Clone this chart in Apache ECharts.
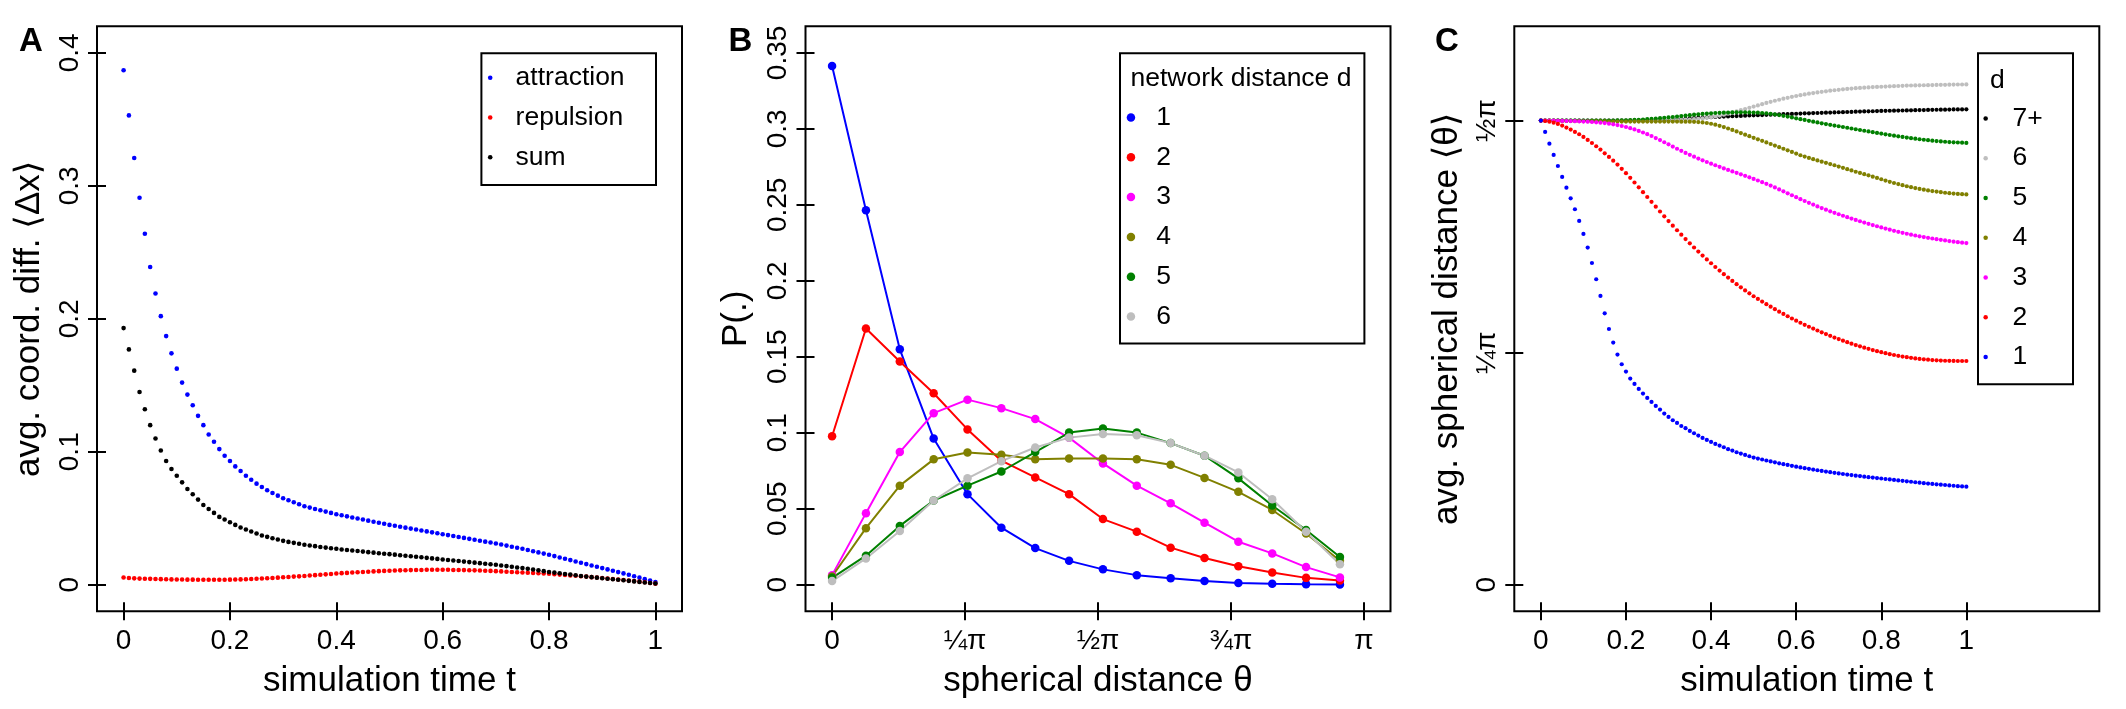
<!DOCTYPE html>
<html><head><meta charset="utf-8">
<script src="https://cdn.jsdelivr.net/npm/echarts@6/dist/echarts.min.js"></script>
<style>html,body{margin:0;padding:0;background:#fff}#c{width:2126px;height:709px}</style>
</head><body><div id="c"></div>
<script>
// ---------- Panel A : simulation time vs avg. coordinate difference ----------
const timeT = [0,0.01,0.02,0.03,0.04,0.05,0.06,0.07,0.08,0.09,0.1,0.11,0.12,0.13,0.14,0.15,0.16,0.17,0.18,0.19,0.2,0.21,0.22,0.23,0.24,0.25,0.26,0.27,0.28,0.29,0.3,0.31,0.32,0.33,0.34,0.35,0.36,0.37,0.38,0.39,0.4,0.41,0.42,0.43,0.44,0.45,0.46,0.47,0.48,0.49,0.5,0.51,0.52,0.53,0.54,0.55,0.56,0.57,0.58,0.59,0.6,0.61,0.62,0.63,0.64,0.65,0.66,0.67,0.68,0.69,0.7,0.71,0.72,0.73,0.74,0.75,0.76,0.77,0.78,0.79,0.8,0.81,0.82,0.83,0.84,0.85,0.86,0.87,0.88,0.89,0.9,0.91,0.92,0.93,0.94,0.95,0.96,0.97,0.98,0.99,1];

const attraction = [0.387,0.353,0.321,0.291,0.264,0.239,0.219,0.202,0.187,0.174,
0.1625,0.152,0.143,0.135,0.127,0.120,0.113,0.1075,0.102,0.097,
0.093,0.089,0.0855,0.082,0.079,0.076,0.0735,0.071,0.069,0.067,
0.065,0.0635,0.062,0.0605,0.059,0.058,0.057,0.056,0.055,0.054,
0.053,0.0522,0.0514,0.0506,0.0498,0.049,0.0482,0.0474,0.0466,0.0458,
0.045,0.0443,0.0436,0.0429,0.0422,0.0415,0.0408,0.0401,0.0394,0.0387,
0.038,0.0373,0.0366,0.0359,0.0352,0.0345,0.0338,0.0331,0.0324,0.0317,
0.031,0.0302,0.0294,0.0286,0.0278,0.027,0.0261,0.0252,0.0243,0.0234,
0.0225,0.0215,0.0205,0.0195,0.0185,0.0175,0.0165,0.0155,0.0145,0.0135,
0.0125,0.0115,0.0105,0.0095,0.0085,0.0075,0.0064,0.0053,0.0042,0.0031,
0.002];

const repulsion = [0.0054,0.0050,0.0048,0.0046,0.0045,0.0044,0.0043,0.0042,0.0041,0.0040,
0.0039,0.0039,0.0038,0.0038,0.0037,0.0037,0.0037,0.0037,0.0037,0.0037,
0.0038,0.0039,0.0040,0.0041,0.0043,0.0045,0.0047,0.0049,0.0051,0.0053,
0.0056,0.0058,0.0061,0.0063,0.0066,0.0069,0.0072,0.0075,0.0078,0.0081,
0.0084,0.0087,0.0089,0.0092,0.0094,0.0096,0.0098,0.0100,0.0102,0.0104,
0.0105,0.0107,0.0108,0.0109,0.0110,0.0111,0.0111,0.0112,0.0112,0.0112,
0.0112,0.0112,0.0111,0.0111,0.0110,0.0109,0.0108,0.0107,0.0105,0.0104,
0.0102,0.0100,0.0098,0.0096,0.0094,0.0092,0.0090,0.0088,0.0086,0.0084,
0.0082,0.0079,0.0076,0.0073,0.0070,0.0067,0.0064,0.0061,0.0057,0.0054,
0.0050,0.0047,0.0043,0.0039,0.0035,0.0031,0.0027,0.0023,0.0018,0.0013,
0.0008];

const sumForce = [0.193,0.177,0.161,0.145,0.132,0.120,0.110,0.101,0.093,0.087,
0.082,0.077,0.072,0.068,0.064,0.060,0.057,0.054,0.051,0.049,
0.047,0.045,0.043,0.0415,0.040,0.0385,0.037,0.036,0.035,0.034,
0.033,0.0322,0.0315,0.0308,0.0301,0.0295,0.029,0.0284,0.0279,0.0274,
0.027,0.0265,0.0261,0.0257,0.0253,0.0249,0.0245,0.0241,0.0237,0.0233,
0.023,0.0226,0.0222,0.0218,0.0214,0.021,0.0206,0.0202,0.0198,0.0194,
0.019,0.0186,0.0182,0.0178,0.0174,0.017,0.0166,0.0162,0.0158,0.0154,
0.015,0.0145,0.014,0.0135,0.013,0.0125,0.012,0.0114,0.0108,0.0102,
0.0096,0.0091,0.0086,0.0081,0.0076,0.0071,0.0066,0.0061,0.0057,0.0053,
0.0049,0.0045,0.0041,0.0037,0.0033,0.0029,0.0025,0.0021,0.0017,0.0013,
0.0009];

const ticksA_x = [0,0.2,0.4,0.6,0.8,1];
const labelsA_x = ['0','0.2','0.4','0.6','0.8','1'];
const ticksA_y = [0,0.1,0.2,0.3,0.4];
const labelsA_y = ['0','0.1','0.2','0.3','0.4'];

// ---------- Panel B : P(theta) per network distance d ----------
const thetaRad = [0,0.2,0.4,0.6,0.8,1.0,1.2,1.4,1.6,1.8,2.0,2.2,2.4,2.6,2.8,3.0];
const P_d1 = [0.3414,0.2464,0.1549,0.0962,0.0596,0.0375,0.0241,0.0157,0.0101,0.0063,0.0042,0.0024,0.0012,0.0006,0.0003,0.0001];
const P_d2 = [0.0977,0.1686,0.1469,0.1260,0.1022,0.0816,0.0706,0.0596,0.0432,0.0349,0.0244,0.0176,0.0122,0.0080,0.0045,0.0027];
const P_d3 = [0.0063,0.0471,0.0873,0.1129,0.1218,0.1162,0.1090,0.0968,0.0798,0.0652,0.0536,0.0408,0.0283,0.0206,0.0116,0.0048];
const P_d4 = [0.0054,0.0372,0.0652,0.0825,0.0870,0.0855,0.0825,0.0831,0.0831,0.0825,0.0789,0.0703,0.0611,0.0492,0.0337,0.0158];
const P_d5 = [0.0045,0.0191,0.0387,0.0554,0.0652,0.0745,0.0873,0.1001,0.1028,0.1001,0.0932,0.0849,0.0700,0.0521,0.0360,0.0182];
const P_d6 = [0.0024,0.0173,0.0354,0.0554,0.0700,0.0813,0.0903,0.0968,0.0992,0.0983,0.0932,0.0849,0.0739,0.0563,0.0349,0.0134];

const ticksB_x = [0, Math.PI/4, Math.PI/2, 3*Math.PI/4, Math.PI];
const labelsB_x = ['0','\u00BC\u03C0','\u00BD\u03C0','\u00BE\u03C0','\u03C0'];
const ticksB_y = [0,0.05,0.1,0.15,0.2,0.25,0.3,0.35];
const labelsB_y = ['0','0.05','0.1','0.15','0.2','0.25','0.3','0.35'];

// ---------- Panel C : avg. spherical distance (in units of pi) vs time ----------
const C_d1 = [0.5000,0.4878,0.4752,0.4630,0.4511,0.4393,0.4278,0.4163,0.4045,0.3919,
0.3779,0.3632,0.3466,0.3291,0.3111,0.2924,0.2755,0.2609,0.2479,0.2375,
0.2296,0.2221,0.2163,0.2109,0.2059,0.2012,0.1969,0.1926,0.1887,0.1844,
0.1808,0.1772,0.1743,0.1710,0.1686,0.1657,0.1632,0.1607,0.1581,0.1560,
0.1538,0.1517,0.1499,0.1481,0.1460,0.1445,0.1427,0.1413,0.1398,0.1384,
0.1370,0.1359,0.1349,0.1338,0.1328,0.1318,0.1308,0.1299,0.1290,0.1281,
0.1272,0.1264,0.1256,0.1248,0.1240,0.1233,0.1226,0.1219,0.1212,0.1205,
0.1199,0.1193,0.1187,0.1181,0.1175,0.1170,0.1164,0.1159,0.1154,0.1149,
0.1144,0.1139,0.1134,0.1129,0.1124,0.1119,0.1114,0.1109,0.1104,0.1099,
0.1094,0.1090,0.1086,0.1082,0.1078,0.1074,0.1070,0.1066,0.1062,0.1059,
0.1056];
const C_d2 = [0.5000,0.4996,0.4989,0.4978,0.4964,0.4946,0.4925,0.4903,0.4878,0.4853,
0.4824,0.4792,0.4759,0.4724,0.4688,0.4648,0.4609,0.4568,0.4526,0.4481,
0.4434,0.4384,0.4333,0.4281,0.4229,0.4177,0.4125,0.4073,0.4021,0.3969,
0.3918,0.3868,0.3819,0.3771,0.3724,0.3678,0.3633,0.3589,0.3546,0.3504,
0.3463,0.3423,0.3384,0.3346,0.3309,0.3273,0.3238,0.3204,0.3171,0.3139,
0.3108,0.3079,0.3050,0.3022,0.2995,0.2968,0.2942,0.2917,0.2892,0.2868,
0.2845,0.2822,0.2800,0.2779,0.2759,0.2739,0.2719,0.2700,0.2681,0.2663,
0.2646,0.2629,0.2613,0.2597,0.2582,0.2568,0.2554,0.2541,0.2528,0.2516,
0.2505,0.2494,0.2484,0.2475,0.2466,0.2458,0.2451,0.2444,0.2438,0.2433,
0.2428,0.2424,0.2420,0.2417,0.2415,0.2413,0.2412,0.2411,0.2410,0.2410,
0.2410];
const C_d3 = [0.5000,0.5000,0.4999,0.4999,0.4998,0.4997,0.4996,0.4995,0.4994,0.4992,
0.4990,0.4988,0.4985,0.4982,0.4978,0.4973,0.4967,0.4960,0.4952,0.4942,
0.4931,0.4919,0.4905,0.4889,0.4872,0.4854,0.4834,0.4812,0.4790,0.4767,
0.4744,0.4720,0.4697,0.4674,0.4652,0.4631,0.4611,0.4591,0.4572,0.4554,
0.4536,0.4519,0.4502,0.4485,0.4469,0.4453,0.4437,0.4421,0.4405,0.4389,
0.4372,0.4355,0.4337,0.4319,0.4300,0.4280,0.4259,0.4238,0.4217,0.4196,
0.4175,0.4154,0.4134,0.4114,0.4095,0.4076,0.4058,0.4040,0.4023,0.4007,
0.3991,0.3975,0.3960,0.3945,0.3930,0.3916,0.3902,0.3888,0.3875,0.3862,
0.3849,0.3837,0.3825,0.3813,0.3802,0.3791,0.3781,0.3771,0.3762,0.3753,
0.3745,0.3737,0.3730,0.3723,0.3716,0.3709,0.3702,0.3696,0.3690,0.3685,
0.3681];
const C_d4 = [0.5000,0.5000,0.4999,0.4999,0.4998,0.4997,0.4996,0.4996,0.4995,0.4994,
0.4993,0.4993,0.4992,0.4992,0.4991,0.4991,0.4990,0.4990,0.4990,0.4990,
0.4990,0.4990,0.4990,0.4990,0.4990,0.4990,0.4990,0.4990,0.4990,0.4990,
0.4990,0.4990,0.4990,0.4989,0.4988,0.4988,0.4987,0.4984,0.4980,0.4974,
0.4966,0.4956,0.4944,0.4930,0.4915,0.4900,0.4883,0.4866,0.4849,0.4832,
0.4815,0.4798,0.4782,0.4765,0.4748,0.4731,0.4714,0.4697,0.4680,0.4663,
0.4645,0.4627,0.4612,0.4598,0.4584,0.4571,0.4558,0.4545,0.4532,0.4519,
0.4505,0.4491,0.4477,0.4463,0.4449,0.4436,0.4423,0.4410,0.4396,0.4382,
0.4368,0.4354,0.4341,0.4328,0.4316,0.4304,0.4293,0.4283,0.4273,0.4264,
0.4256,0.4248,0.4241,0.4235,0.4229,0.4223,0.4218,0.4214,0.4210,0.4207,
0.4205];
const C_d5 = [0.5000,0.5000,0.5000,0.5000,0.5000,0.5000,0.5000,0.5000,0.5000,0.5000,
0.5000,0.5000,0.5000,0.5000,0.5000,0.5000,0.5001,0.5001,0.5002,0.5002,
0.5003,0.5005,0.5007,0.5009,0.5012,0.5015,0.5018,0.5022,0.5026,0.5030,
0.5034,0.5039,0.5044,0.5049,0.5054,0.5059,0.5064,0.5068,0.5072,0.5076,
0.5079,0.5082,0.5084,0.5086,0.5087,0.5088,0.5089,0.5089,0.5089,0.5088,
0.5087,0.5085,0.5082,0.5078,0.5073,0.5067,0.5060,0.5052,0.5043,0.5034,
0.5025,0.5016,0.5007,0.4998,0.4989,0.4980,0.4971,0.4963,0.4955,0.4947,
0.4939,0.4931,0.4923,0.4915,0.4907,0.4899,0.4891,0.4883,0.4875,0.4867,
0.4860,0.4852,0.4845,0.4838,0.4831,0.4824,0.4817,0.4811,0.4805,0.4799,
0.4794,0.4789,0.4784,0.4780,0.4776,0.4772,0.4769,0.4766,0.4764,0.4762,
0.4760];
const C_d6 = [0.5000,0.5000,0.5000,0.5000,0.5000,0.5000,0.5000,0.5000,0.5000,0.5000,
0.5000,0.5001,0.5001,0.5001,0.5001,0.5001,0.5001,0.5001,0.5001,0.5001,
0.5001,0.5002,0.5002,0.5003,0.5003,0.5004,0.5004,0.5005,0.5005,0.5006,
0.5006,0.5007,0.5008,0.5009,0.5010,0.5012,0.5015,0.5019,0.5024,0.5030,
0.5037,0.5045,0.5054,0.5064,0.5075,0.5087,0.5099,0.5112,0.5125,0.5138,
0.5151,0.5164,0.5177,0.5190,0.5202,0.5214,0.5225,0.5236,0.5246,0.5256,
0.5265,0.5274,0.5282,0.5290,0.5297,0.5304,0.5310,0.5316,0.5322,0.5327,
0.5332,0.5337,0.5341,0.5345,0.5349,0.5352,0.5355,0.5358,0.5361,0.5363,
0.5365,0.5367,0.5369,0.5371,0.5373,0.5375,0.5377,0.5378,0.5379,0.5380,
0.5381,0.5382,0.5383,0.5384,0.5385,0.5386,0.5387,0.5388,0.5389,0.5389,
0.5390];
const C_d7plus = [0.5000,0.5000,0.5000,0.5000,0.5000,0.5000,0.5000,0.5000,0.5000,0.5000,
0.5000,0.5000,0.5000,0.5000,0.5000,0.5000,0.5000,0.5000,0.5000,0.5000,
0.5000,0.5000,0.5001,0.5001,0.5002,0.5002,0.5003,0.5003,0.5004,0.5005,
0.5006,0.5009,0.5012,0.5015,0.5019,0.5022,0.5026,0.5029,0.5032,0.5035,
0.5037,0.5039,0.5041,0.5043,0.5045,0.5047,0.5049,0.5051,0.5053,0.5055,
0.5057,0.5058,0.5060,0.5062,0.5064,0.5065,0.5067,0.5069,0.5071,0.5072,
0.5074,0.5076,0.5078,0.5079,0.5081,0.5082,0.5084,0.5085,0.5087,0.5088,
0.5090,0.5091,0.5093,0.5094,0.5096,0.5097,0.5099,0.5100,0.5101,0.5103,
0.5104,0.5105,0.5106,0.5107,0.5108,0.5109,0.5110,0.5111,0.5112,0.5113,
0.5114,0.5115,0.5116,0.5117,0.5118,0.5118,0.5119,0.5120,0.5121,0.5121,
0.5122];

const ticksC_x = [0,0.2,0.4,0.6,0.8,1];
const labelsC_x = ['0','0.2','0.4','0.6','0.8','1'];
const ticksC_y = [0,0.25,0.5];          // units of pi
const labelsC_y = ['0','\u00BC\u03C0','\u00BD\u03C0'];

const COL = {blue:'#0000FF', red:'#FF0000', magenta:'#FF00FF', olive:'#808000', green:'#008000', gray:'#BEBEBE', black:'#000000'};

// ---------- chart ----------
const FONT = '"Liberation Sans", Arial, "DejaVu Sans", sans-serif';
const chart = echarts.init(document.getElementById('c'), null, {renderer:'canvas', width:2126, height:709});

function fmtFrom(values, labels) {
  return function (v) {
    for (let i = 0; i < values.length; i++) if (Math.abs(v - values[i]) < 1e-9) return labels[i];
    return '';
  };
}
function xAx(gi, min, max, ticks, labels, name) {
  return {
    type: 'value', gridIndex: gi, min: min, max: max, position: 'bottom', offset: -9,
    axisLine: {show: false, onZero: false},
    axisTick: {show: true, customValues: ticks, length: 18, lineStyle: {color: '#000', width: 2}},
    axisLabel: {show: true, customValues: ticks, formatter: fmtFrom(ticks, labels), margin: 24.5,
      fontSize: 28, color: '#000', fontFamily: FONT},
    splitLine: {show: false}, minorTick: {show: false},
    name: name, nameLocation: 'middle', nameGap: 62,
    nameTextStyle: {fontSize: 35, color: '#000', fontFamily: FONT}
  };
}
function yAx(gi, min, max, ticks, labels, name, nameGap) {
  return {
    type: 'value', gridIndex: gi, min: min, max: max, position: 'left', offset: -9,
    axisLine: {show: false, onZero: false},
    axisTick: {show: true, customValues: ticks, length: 18, lineStyle: {color: '#000', width: 2}},
    axisLabel: {show: true, customValues: ticks, formatter: fmtFrom(ticks, labels), margin: 22, rotate: 90,
      fontSize: 28, color: '#000', fontFamily: FONT},
    splitLine: {show: false}, minorTick: {show: false},
    name: name, nameLocation: 'middle', nameGap: nameGap, nameRotate: 90,
    nameTextStyle: {fontSize: 35, color: '#000', fontFamily: FONT}
  };
}
const pairs = (xs, ys) => xs.map((x, i) => [x, ys[i]]);

function dots(name, gi, xs, ys, color, size) {
  return {type: 'scatter', name: name, xAxisIndex: gi, yAxisIndex: gi, data: pairs(xs, ys),
    symbol: 'circle', symbolSize: size, itemStyle: {color: color, opacity: 1}, silent: true};
}
function lineDots(name, xs, ys, color) {
  return {type: 'line', name: name, xAxisIndex: 1, yAxisIndex: 1, data: pairs(xs, ys),
    symbol: 'circle', symbolSize: 8.5, showSymbol: true, showAllSymbol: true,
    lineStyle: {color: color, width: 2}, itemStyle: {color: color, opacity: 1}, silent: true};
}
const gridBase = {top: 26.3, width: 585, height: 585, show: true, borderColor: '#000', borderWidth: 2, backgroundColor: 'transparent', containLabel: false};
const legendText = {fontSize: 26.5, lineHeight: 30, color: '#000', fontFamily: FONT};
const titleText = (fs, fw) => ({fontSize: fs, fontWeight: fw, lineHeight: fs + 0.01, color: '#000', fontFamily: FONT});

const option = {
  animation: false,
  backgroundColor: '#ffffff',
  textStyle: {fontFamily: FONT},
  grid: [
    Object.assign({left: 97}, gridBase),
    Object.assign({left: 805.5}, gridBase),
    Object.assign({left: 1514.3}, gridBase)
  ],
  xAxis: [
    xAx(0, -0.05, 1.05, ticksA_x, labelsA_x, 'simulation time t'),
    xAx(1, -0.05 * Math.PI, 1.05 * Math.PI, ticksB_x, labelsB_x, 'spherical distance \u03B8'),
    xAx(2, -0.0625, 1.3125, ticksC_x, labelsC_x, 'simulation time t')
  ],
  yAxis: [
    yAx(0, -0.02, 0.42, ticksA_y, labelsA_y, 'avg. coord. diff. \u27E8\u0394x\u27E9', 59),
    yAx(1, -0.0175, 0.3675, ticksB_y, labelsB_y, 'P(.)', 61),
    yAx(2, -0.09 / Math.PI, 1.89 / Math.PI, ticksC_y, labelsC_y, 'avg. spherical distance \u27E8\u03B8\u27E9', 58.5)
  ],
  title: [
    {text: 'A', left: 19, top: 25.3, padding: 0, textStyle: titleText(33, 'bold')},
    {text: 'B', left: 728.5, top: 25.3, padding: 0, textStyle: titleText(33, 'bold')},
    {text: 'C', left: 1435, top: 25.3, padding: 0, textStyle: titleText(33, 'bold')},
    {text: 'network distance d', left: 1130.5, top: 64, padding: 0, textStyle: {fontSize: 26.5, fontWeight: 'normal', lineHeight: 30, color: '#000', fontFamily: FONT}},
    {text: 'd', left: 1990, top: 65.7, padding: 0, textStyle: {fontSize: 26.5, fontWeight: 'normal', lineHeight: 30, color: '#000', fontFamily: FONT}}
  ],
  legend: [
    {data: ['attraction', 'repulsion', 'sum'], orient: 'vertical', left: 487.9, top: 62.8, padding: 0,
     itemWidth: 40.8, itemHeight: 4.6, itemGap: 9.75, icon: 'circle', selectedMode: false, textStyle: legendText},
    {data: ['1', '2', '3', '4', '5', '6'], orient: 'vertical', left: 1126.7, top: 102.5, padding: 0,
     itemWidth: 40.8, itemHeight: 8.5, itemGap: 9.8, icon: 'circle', selectedMode: false, textStyle: legendText},
    {data: ['C7+', 'C6', 'C5', 'C4', 'C3', 'C2', 'C1'], orient: 'vertical', left: 1983.4, top: 103.4, padding: 0,
     itemWidth: 43.6, itemHeight: 4.5, itemGap: 9.77, icon: 'circle', selectedMode: false, textStyle: legendText,
     formatter: n => n.replace(/^C/, '')}
  ],
  graphic: [
    {type: 'rect', silent: true, shape: {x: 481.4, y: 53.3, width: 174.6, height: 131.6}, style: {fill: 'none', stroke: '#000', lineWidth: 2}},
    {type: 'rect', silent: true, shape: {x: 1120, y: 53.3, width: 244.4, height: 290.3}, style: {fill: 'none', stroke: '#000', lineWidth: 2}},
    {type: 'rect', silent: true, shape: {x: 1978, y: 53.3, width: 95, height: 331}, style: {fill: 'none', stroke: '#000', lineWidth: 2}}
  ],
  series: [
    dots('attraction', 0, timeT, attraction, COL.blue, 4.6),
    dots('repulsion', 0, timeT, repulsion, COL.red, 4.6),
    dots('sum', 0, timeT, sumForce, COL.black, 4.6),
    lineDots('1', thetaRad, P_d1, COL.blue),
    lineDots('2', thetaRad, P_d2, COL.red),
    lineDots('3', thetaRad, P_d3, COL.magenta),
    lineDots('4', thetaRad, P_d4, COL.olive),
    lineDots('5', thetaRad, P_d5, COL.green),
    lineDots('6', thetaRad, P_d6, COL.gray),
    dots('C7+', 2, timeT, C_d7plus, COL.black, 4.2),
    dots('C6', 2, timeT, C_d6, COL.gray, 4.2),
    dots('C5', 2, timeT, C_d5, COL.green, 4.2),
    dots('C4', 2, timeT, C_d4, COL.olive, 4.2),
    dots('C3', 2, timeT, C_d3, COL.magenta, 4.2),
    dots('C2', 2, timeT, C_d2, COL.red, 4.2),
    dots('C1', 2, timeT, C_d1, COL.blue, 4.2)
  ]
};
chart.setOption(option);
</script>
</body></html>
